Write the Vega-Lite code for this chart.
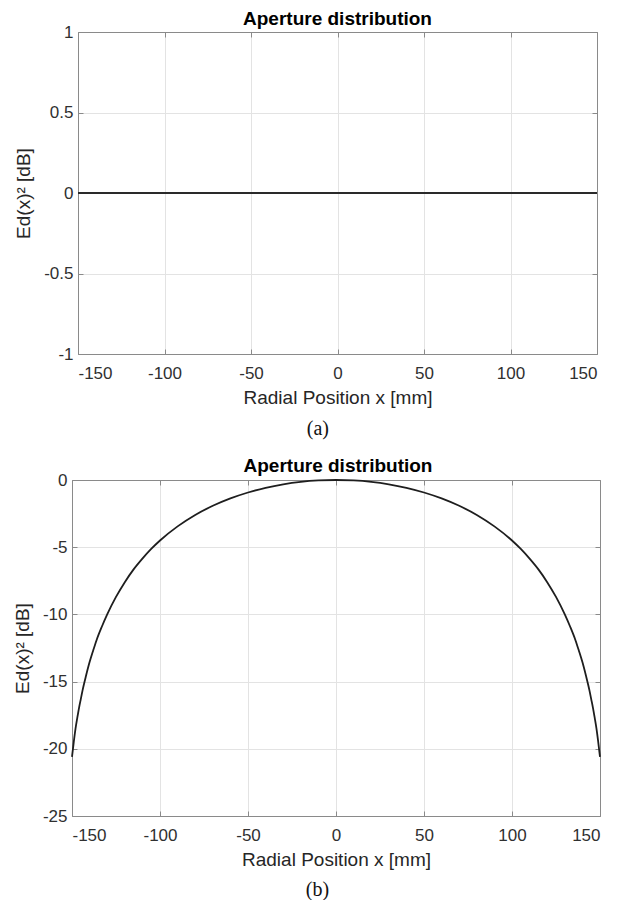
{
  "$schema": "https://vega.github.io/schema/vega-lite/v6.json",
  "background": "white",
  "padding": {"left": 13, "top": 10, "right": 4, "bottom": 0},
  "spacing": 18,
  "config": {
    "font": "Liberation Sans",
    "locale": {"number": {"decimal": ".", "thousands": ",", "grouping": [3], "currency": ["$", ""], "minus": "-"}},
    "view": {"stroke": null},
    "axis": {
      "domainColor": "#8a8a8a",
      "domainWidth": 1,
      "tickColor": "#8a8a8a",
      "tickSize": -5,
      "gridColor": "#e3e3e3",
      "gridWidth": 1,
      "labelFont": "Liberation Sans",
      "labelFontSize": 17,
      "labelColor": "#303030",
      "titleFont": "Liberation Sans",
      "titleFontSize": 19,
      "titleFontWeight": "normal",
      "titleColor": "#262626"
    }
  },
  "vconcat": [
    {
      "title": {"text": "(a)", "orient": "bottom", "anchor": "middle", "dx": 10, "font": "Liberation Serif", "fontSize": 20, "fontWeight": "normal", "color": "#111111", "offset": 12},
      "vconcat": [
        {
          "width": 525,
          "height": 322,
          "title": {"text": "Aperture distribution", "dx": 3, "font": "Liberation Sans", "fontSize": 19, "fontWeight": "bold", "color": "#000000", "offset": -6},
          "data": {"values": [{"x": -150, "y": 0}, {"x": 150, "y": 0}]},
          "layer": [
            {
              "mark": {"type": "line", "color": "#2a2a2a", "strokeWidth": 2},
              "encoding": {
                "x": {"field": "x", "type": "quantitative", "title": "Radial Position x [mm]",
                      "scale": {"domain": [-150, 150], "nice": false, "range": [6, 525]},
                      "axis": {"orient": "bottom", "values": [-150, -100, -50, 0, 50, 100, 150], "format": "d", "labelPadding": 16, "titlePadding": 7, "grid": true}},
                "y": {"field": "y", "type": "quantitative", "title": "Ed(x)² [dB]",
                      "scale": {"domain": [-1, 1], "nice": false},
                      "axis": {"orient": "left", "offset": -6, "values": [-1, -0.5, 0, 0.5, 1], "format": "~r", "labelPadding": 10, "titlePadding": 10, "grid": true}}
              }
            },
            {
              "mark": {"type": "line", "opacity": 0},
              "encoding": {
                "x": {"field": "x", "type": "quantitative",
                      "axis": {"orient": "top", "values": [-150, -100, -50, 0, 50, 100, 150], "labels": false, "title": null, "grid": false, "minExtent": 0, "maxExtent": 0}},
                "y": {"field": "y", "type": "quantitative",
                      "axis": {"orient": "right", "values": [-1, -0.5, 0, 0.5, 1], "labels": false, "title": null, "grid": false, "minExtent": 0, "maxExtent": 0}}
              }
            }
          ],
          "resolve": {"axis": {"x": "independent", "y": "independent"}}
        }
      ]
    },
    {
      "title": {"text": "(b)", "orient": "bottom", "anchor": "middle", "dx": 9, "font": "Liberation Serif", "fontSize": 20, "fontWeight": "normal", "color": "#111111", "offset": 11},
      "vconcat": [
        {
          "width": 528,
          "height": 336,
          "title": {"text": "Aperture distribution", "dx": 2, "font": "Liberation Sans", "fontSize": 19, "fontWeight": "bold", "color": "#000000", "offset": -5},
          "data": {"values": [
            {"x": -150, "y": -20.6}, {"x": -149, "y": -19.5}, {"x": -148, "y": -18.5}, {"x": -147, "y": -17.7},
            {"x": -146, "y": -16.95}, {"x": -145, "y": -16.3}, {"x": -144, "y": -15.65}, {"x": -142, "y": -14.55},
            {"x": -140, "y": -13.55}, {"x": -138, "y": -12.7}, {"x": -136, "y": -11.9}, {"x": -133, "y": -10.9},
            {"x": -130, "y": -10.0}, {"x": -125, "y": -8.7}, {"x": -120, "y": -7.6}, {"x": -115, "y": -6.65},
            {"x": -110, "y": -5.85}, {"x": -105, "y": -5.13}, {"x": -100, "y": -4.5}, {"x": -90, "y": -3.45},
            {"x": -80, "y": -2.6}, {"x": -70, "y": -1.92}, {"x": -60, "y": -1.37}, {"x": -50, "y": -0.93},
            {"x": -40, "y": -0.58}, {"x": -30, "y": -0.32}, {"x": -20, "y": -0.14}, {"x": -10, "y": -0.035},
            {"x": 0, "y": 0},
            {"x": 10, "y": -0.035}, {"x": 20, "y": -0.14}, {"x": 30, "y": -0.32}, {"x": 40, "y": -0.58},
            {"x": 50, "y": -0.93}, {"x": 60, "y": -1.37}, {"x": 70, "y": -1.92}, {"x": 80, "y": -2.6},
            {"x": 90, "y": -3.45}, {"x": 100, "y": -4.5}, {"x": 105, "y": -5.13}, {"x": 110, "y": -5.85},
            {"x": 115, "y": -6.65}, {"x": 120, "y": -7.6}, {"x": 125, "y": -8.7}, {"x": 130, "y": -10.0},
            {"x": 133, "y": -10.9}, {"x": 136, "y": -11.9}, {"x": 138, "y": -12.7}, {"x": 140, "y": -13.55},
            {"x": 142, "y": -14.55}, {"x": 144, "y": -15.65}, {"x": 145, "y": -16.3}, {"x": 146, "y": -16.95},
            {"x": 147, "y": -17.7}, {"x": 148, "y": -18.5}, {"x": 149, "y": -19.5}, {"x": 150, "y": -20.6}
          ]},
          "layer": [
            {
              "mark": {"type": "line", "color": "#1e1e1e", "strokeWidth": 1.8, "interpolate": "monotone"},
              "encoding": {
                "x": {"field": "x", "type": "quantitative", "title": "Radial Position x [mm]",
                      "scale": {"domain": [-150, 150], "nice": false},
                      "axis": {"orient": "bottom", "values": [-150, -100, -50, 0, 50, 100, 150], "format": "d", "labelPadding": 16, "titlePadding": 7, "grid": true}},
                "y": {"field": "y", "type": "quantitative", "title": "Ed(x)² [dB]",
                      "scale": {"domain": [-25, 0], "nice": false},
                      "axis": {"orient": "left", "values": [-25, -20, -15, -10, -5, 0], "format": "d", "labelPadding": 10, "titlePadding": 10, "grid": true}}
              }
            },
            {
              "mark": {"type": "line", "opacity": 0},
              "encoding": {
                "x": {"field": "x", "type": "quantitative",
                      "axis": {"orient": "top", "values": [-150, -100, -50, 0, 50, 100, 150], "labels": false, "title": null, "grid": false, "minExtent": 0, "maxExtent": 0}},
                "y": {"field": "y", "type": "quantitative",
                      "axis": {"orient": "right", "values": [-25, -20, -15, -10, -5, 0], "labels": false, "title": null, "grid": false, "minExtent": 0, "maxExtent": 0}}
              }
            }
          ],
          "resolve": {"axis": {"x": "independent", "y": "independent"}}
        }
      ]
    }
  ]
}
